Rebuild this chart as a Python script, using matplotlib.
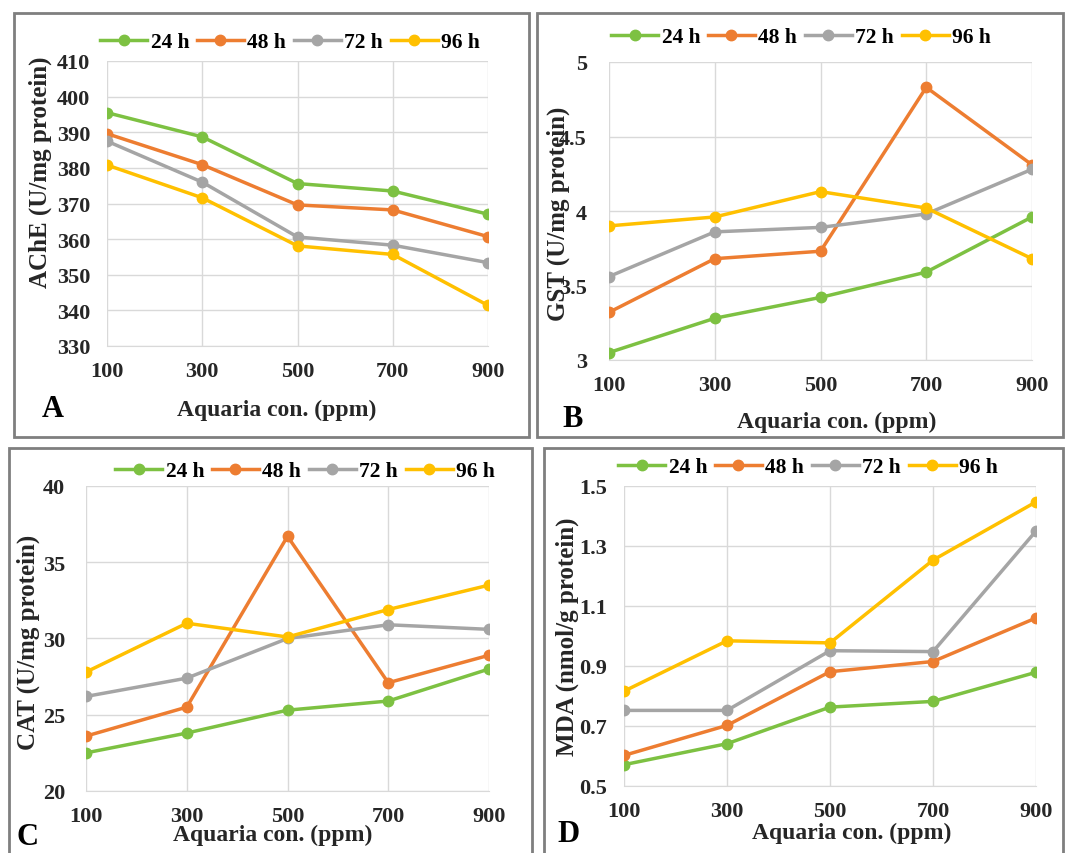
import matplotlib
matplotlib.use("Agg")
import matplotlib.pyplot as plt
from matplotlib.patches import Rectangle
from matplotlib.ticker import FuncFormatter

conc = [100, 300, 500, 700, 900]
series_names = ["24 h", "48 h", "72 h", "96 h"]
colors = ["#7DC142", "#ED7D31", "#A5A5A5", "#FFC000"]

ache_24 = [395.5, 388.7, 375.6, 373.5, 367.0]
ache_48 = [389.6, 380.9, 369.6, 368.2, 360.7]
ache_72 = [387.5, 376.0, 360.6, 358.3, 353.4]
ache_96 = [380.8, 371.6, 358.1, 355.7, 341.4]

gst_24 = [3.05, 3.28, 3.42, 3.59, 3.96]
gst_48 = [3.32, 3.68, 3.73, 4.83, 4.31]
gst_72 = [3.56, 3.86, 3.89, 3.98, 4.28]
gst_96 = [3.90, 3.96, 4.13, 4.02, 3.68]

cat_24 = [22.5, 23.8, 25.3, 25.9, 28.0]
cat_48 = [23.6, 25.5, 36.7, 27.1, 28.9]
cat_72 = [26.2, 27.4, 30.0, 30.9, 30.6]
cat_96 = [27.8, 31.0, 30.1, 31.9, 33.5]

mda_24 = [0.571, 0.641, 0.763, 0.782, 0.879]
mda_48 = [0.602, 0.702, 0.881, 0.915, 1.060]
mda_72 = [0.752, 0.752, 0.951, 0.948, 1.350]
mda_96 = [0.816, 0.984, 0.977, 1.253, 1.447]

W, H = 1071, 854
plt.rcParams['font.family'] = ['Liberation Serif', 'DejaVu Serif']
plt.rcParams['font.weight'] = 'bold'
fig = plt.figure(figsize=(W / 100, H / 100), dpi=100)

def fx(px):
    return px / W

def fy(py):
    return 1 - py / H

def add_axes(l, r, t, b):
    return fig.add_axes([fx(l), fy(b), fx(r) - fx(l), fy(t) - fy(b)])

TICK_FS = 16
LEG_FS = 15.5
LAB_FS = 18
XLAB_FS = 17
LET_FS = 22

panels = [
    dict(box=(14, 14, 529, 438), ax=(107, 488, 62, 347), data=[ache_24, ache_48, ache_72, ache_96],
         ylim=(330, 410), yticks=list(range(330, 411, 10)), ylabel="AChE (U/mg protein)",
         ylab_xy=(40, 172), leg_xy=(290, 43), xlab_xy=(277, 410), letter="A", let_xy=(53, 410), ypad=12),
    dict(box=(537, 14, 1063, 438), ax=(609, 1032, 63, 361), data=[gst_24, gst_48, gst_72, gst_96],
         ylim=(3, 5), yticks=[3, 3.5, 4, 4.5, 5], ylabel="GST (U/mg protein)",
         ylab_xy=(558, 214), leg_xy=(801, 38), xlab_xy=(837, 422), letter="B", let_xy=(573, 420), ypad=16),
    dict(box=(9, 449, 532, 870), ax=(86, 489, 487, 792), data=[cat_24, cat_48, cat_72, cat_96],
         ylim=(20, 40), yticks=[20, 25, 30, 35, 40], ylabel="CAT (U/mg protein)",
         ylab_xy=(28, 642), leg_xy=(305, 472), xlab_xy=(273, 835), letter="C", let_xy=(27, 838), ypad=15),
    dict(box=(544, 449, 1063, 870), ax=(624, 1036, 487, 787), data=[mda_24, mda_48, mda_72, mda_96],
         ylim=(0.5, 1.5), yticks=[0.5, 0.7, 0.9, 1.1, 1.3, 1.5], ylabel="MDA (nmol/g protein)",
         ylab_xy=(567, 637), leg_xy=(808, 468), xlab_xy=(852, 833), letter="D", let_xy=(568, 835), ypad=12),
]

for p in panels:
    l, t, r, b = p["box"]
    fig.patches.append(Rectangle((fx(l), fy(b)), fx(r) - fx(l), fy(t) - fy(b),
                                 transform=fig.transFigure, fill=False,
                                 edgecolor="#7F7F7F", linewidth=2))
    ax = add_axes(*p["ax"])
    lines = []
    for vals, name, c in zip(p["data"], series_names, colors):
        ln, = ax.plot(conc, vals, color=c, linewidth=2.5, marker="o", markersize=7.5, label=name)
        lines.append(ln)
    ax.set_xlim(100, 900)
    ax.set_ylim(*p["ylim"])
    ax.set_xticks(conc)
    ax.set_yticks(p["yticks"])
    ax.yaxis.set_major_formatter(FuncFormatter(lambda v, pos: f"{v:g}"))
    ax.grid(True, color="#D9D9D9", linewidth=1)
    ax.set_axisbelow(True)
    for s in ["top", "right", "left"]:
        ax.spines[s].set_visible(False)
    ax.spines["bottom"].set_color("#D9D9D9")
    ax.tick_params(axis="both", length=0, labelsize=TICK_FS, colors="#262626")
    ax.tick_params(axis="y", pad=p["ypad"])
    ax.tick_params(axis="x", pad=11)
    for lab in ax.get_xticklabels() + ax.get_yticklabels():
        lab.set_fontweight("bold")
    ax.legend(handles=lines, loc="center", bbox_to_anchor=(fx(p["leg_xy"][0]), fy(p["leg_xy"][1])),
              bbox_transform=fig.transFigure, ncol=4, frameon=False,
              handlelength=2.2, columnspacing=0.35, handletextpad=0.15, borderaxespad=0,
              prop=dict(weight="bold", size=LEG_FS))
    fig.text(fx(p["ylab_xy"][0]), fy(p["ylab_xy"][1]), p["ylabel"], rotation=90,
             ha="center", va="center", fontsize=LAB_FS, fontweight="bold", color="#262626")
    fig.text(fx(p["xlab_xy"][0]), fy(p["xlab_xy"][1]), "Aquaria con. (ppm)",
             ha="center", va="center", fontsize=XLAB_FS, fontweight="bold", color="#262626")
    fig.text(fx(p["let_xy"][0]), fy(p["let_xy"][1]), p["letter"],
             ha="center", va="center", fontsize=LET_FS, fontweight="bold", color="black")

fig.savefig("out.png", dpi=100, facecolor="white")
